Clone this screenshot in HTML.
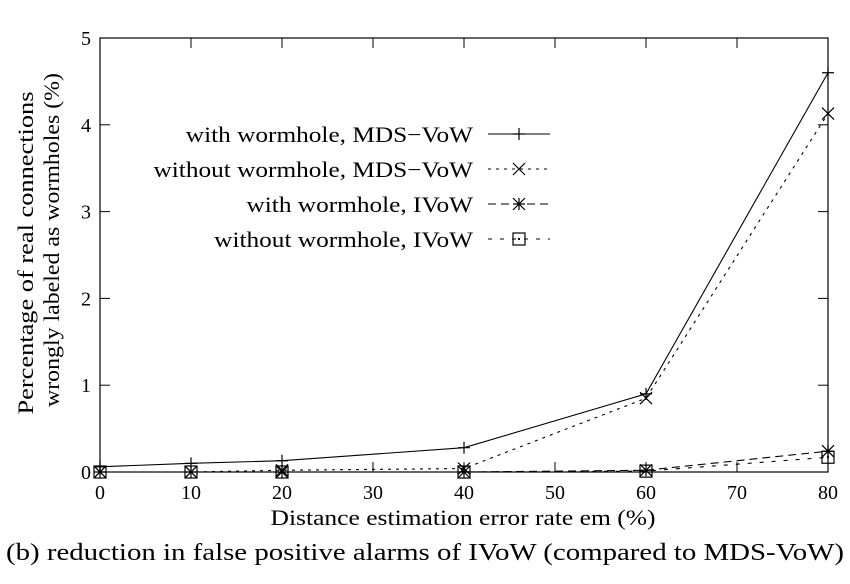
<!DOCTYPE html>
<html><head><meta charset="utf-8"><style>
body{margin:0;background:#fff}
svg text{font-family:"Liberation Serif",serif;fill:#000}
</style></head><body>
<svg id="c" width="850" height="579" xmlns="http://www.w3.org/2000/svg">
<rect x="100" y="38" width="728" height="434" fill="none" stroke="#000" stroke-width="1.2"/>
<g id="ticks"></g><g id="series"></g><g id="legend"></g>
<text x="33" y="253" font-size="22" text-anchor="middle" textLength="323" lengthAdjust="spacingAndGlyphs" transform="rotate(-90 33 253)">Percentage of real connections</text>
<text x="59" y="240" font-size="22" text-anchor="middle" textLength="334" lengthAdjust="spacingAndGlyphs" transform="rotate(-90 59 240)">wrongly labeled as wormholes (%)</text>
<text x="463" y="525" font-size="22" text-anchor="middle" textLength="385" lengthAdjust="spacingAndGlyphs">Distance estimation error rate em (%)</text>
<text x="425" y="560" font-size="24" text-anchor="middle" textLength="838" lengthAdjust="spacingAndGlyphs">(b) reduction in false positive alarms of IVoW (compared to MDS-VoW)</text>
</svg>
<script>
const xCats=[0,10,20,40,60,80];
const xTicks=[0,10,20,30,40,50,60,70,80];
const yTicks=[0,1,2,3,4,5];
const withMDS=[0.06,0.1,0.13,0.28,0.9,4.6];
const withoutMDS=[0,0,0.02,0.04,0.85,4.13];
const withIVoW=[0,0,0,0,0.02,0.24];
const withoutIVoW=[0,0,0,0,0.01,0.17];
const labels=["with wormhole, MDS\u2212VoW","without wormhole, MDS\u2212VoW","with wormhole, IVoW","without wormhole, IVoW"];
const NS="http://www.w3.org/2000/svg";
const X=v=>100+v*(728/80), Y=v=>472-v*(434/5);
function mk(t,a,p){const e=document.createElementNS(NS,t);for(const k in a)e.setAttribute(k,a[k]);p.appendChild(e);return e;}
const tk=document.getElementById('ticks');
xTicks.forEach(v=>{
 const l=mk('line',{x1:X(v),x2:X(v),y1:472,y2:462,stroke:'#000'},tk);
 
 
 const l2=mk('line',{x1:X(v),x2:X(v),y1:38,y2:48,stroke:'#000'},tk);
 
 
 const t=mk('text',{x:X(v),y:499,'font-size':20,'text-anchor':'middle'},tk);t.textContent=v;
 
 
});
yTicks.forEach(v=>{
 const l=mk('line',{x1:100,x2:110,y1:Y(v),y2:Y(v),stroke:'#000'},tk);
 
 
 const l2=mk('line',{x1:828,x2:818,y1:Y(v),y2:Y(v),stroke:'#000'},tk);
 
 
 const t=mk('text',{x:91,y:Y(v)+7,'font-size':20,'text-anchor':'end'},tk);t.textContent=v;
 
 
});
function marker(g,type,x,y){
 const s=6,st={stroke:'#000','stroke-width':1.2,fill:'none'};
 if(type==='plus'){mk('path',Object.assign({d:`M${x-s} ${y}H${x+s}M${x} ${y-s}V${y+s}`},st),g);}
 else if(type==='x'){mk('path',Object.assign({d:`M${x-s} ${y-s}L${x+s} ${y+s}M${x-s} ${y+s}L${x+s} ${y-s}`},st),g);}
 else if(type==='star'){mk('path',Object.assign({d:`M${x-s} ${y}H${x+s}M${x} ${y-s}V${y+s}M${x-s} ${y-s}L${x+s} ${y+s}M${x-s} ${y+s}L${x+s} ${y-s}`},st),g);}
 else {mk('rect',Object.assign({x:x-s,y:y-s,width:2*s,height:2*s},st),g);mk('rect',{x:x-1,y:y-1,width:2,height:2,fill:'#000'},g);}
}
const defs=[[withMDS,'plus','none','series-with-wormhole-mds'],[withoutMDS,'x','3,5','series-without-wormhole-mds'],[withIVoW,'star','8,5','series-with-wormhole-ivow'],[withoutIVoW,'square','4,8','series-without-wormhole-ivow']];
const sg=document.getElementById('series'),lg=document.getElementById('legend');
defs.forEach((d,i)=>{
 const g=mk('g',{},sg);
 
 
 const pts=d[0].map((v,j)=>X(xCats[j])+','+Y(v)).join(' ');
 const pl=mk('polyline',{points:pts,fill:'none',stroke:'#000','stroke-width':1.1,'stroke-dasharray':d[2]},g);
 
 
 d[0].forEach((v,j)=>marker(g,d[1],X(xCats[j]),Y(v)));
 const ly=134+35*i;
 const lgi=mk('g',{},lg);
 
 
 const t=mk('text',{x:473,y:ly+8,'font-size':22,'text-anchor':'end'},lgi);t.textContent=labels[i];
 const w=t.getComputedTextLength();
 t.setAttribute('textLength',(w*1.15).toFixed(1));
 t.setAttribute('lengthAdjust','spacingAndGlyphs');
 mk('line',{x1:488,x2:550,y1:ly,y2:ly,stroke:'#000','stroke-width':1.1,'stroke-dasharray':d[2]},lgi);
 marker(lgi,d[1],519,ly);
});
</script>
</body></html>
